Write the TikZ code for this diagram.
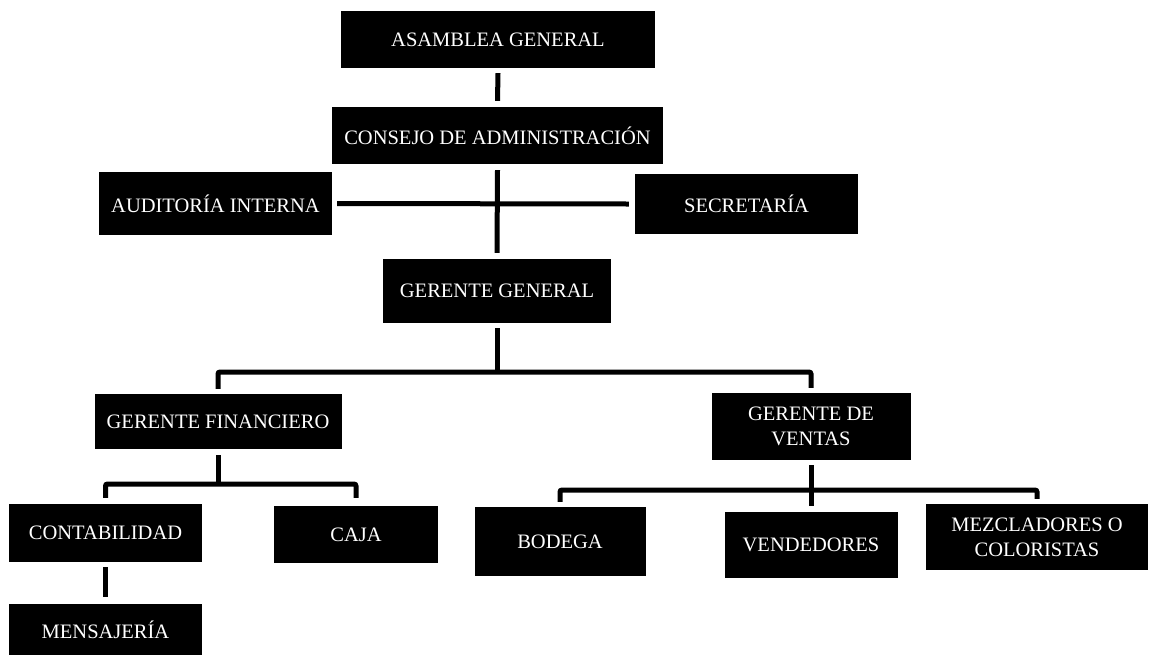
\documentclass[tikz,border=0pt]{standalone}
\usepackage{fontspec}
\setmainfont{Liberation Serif}
\usepackage{tikz}
\usetikzlibrary{calc}

\begin{document}
\begin{tikzpicture}[x=1pt, y=-1pt,
  box/.style={fill=black, text=white, inner sep=0pt, align=center, font=\fontsize{20.5}{25}\selectfont},
  link/.style={line width=5pt, rounded corners=2pt}]
\useasboundingbox (0,0) rectangle (1152,654);
% top of the chart
\node[box, minimum width=314pt, minimum height=57pt] (asamblea) at (498,39.5) {ASAMBLEA GENERAL};
\node[box, minimum width=331pt, minimum height=57pt] (consejo) at (497.5,135.5) {CONSEJO DE ADMINISTRACIÓN};
\node[box, minimum width=233pt, minimum height=63pt] (auditoria) at (215.5,203.5) {AUDITORÍA INTERNA};
\node[box, minimum width=223pt, minimum height=60pt] (secretaria) at (746.5,204) {SECRETARÍA};
\node[box, minimum width=228pt, minimum height=64pt] (gerente) at (497,291) {GERENTE GENERAL};
% managers
\node[box, minimum width=247pt, minimum height=55pt] (financiero) at (218,421.5) {GERENTE FINANCIERO};
\node[box, minimum width=199pt, minimum height=67pt] (ventas) at (811,426.5) {GERENTE DE\\VENTAS};
% departments
\node[box, minimum width=193pt, minimum height=58pt] (contab) at (105.5,533) {CONTABILIDAD};
\node[box, minimum width=164pt, minimum height=57pt] (caja) at (356,534.5) {CAJA};
\node[box, minimum width=193pt, minimum height=52pt] (mensaj) at (105.5,630) {MENSAJERÍA};
\node[box, minimum width=171pt, minimum height=69pt] (bodega) at (560,541.5) {BODEGA};
\node[box, minimum width=173pt, minimum height=66pt] (vended) at (811,545) {VENDEDORES};
\node[box, minimum width=222pt, minimum height=66pt] (mezcl) at (1037,537) {MEZCLADORES O\\COLORISTAS};
% connectors
\coordinate (busA) at (497,372);
\coordinate (busB) at (218,484);
\coordinate (busC) at (811,490);
\draw[link] ([yshift=-5pt]asamblea.south) -- ([yshift=6pt]consejo.north);
\draw[link] ([yshift=-6pt]consejo.south) -- ([yshift=6pt]gerente.north);
\draw[link] ([xshift=5pt]auditoria.east) -- ([xshift=-6pt]secretaria.west);
\draw[link] ([yshift=-5pt]gerente.south) -- (busA);
\draw[link] ([yshift=5pt]financiero.north) |- (busA) -| ([yshift=5pt]ventas.north);
\draw[link] ([yshift=-6pt]financiero.south) -- (busB);
\draw[link] ([yshift=6pt]contab.north) |- (busB) -| ([yshift=8pt]caja.north);
\draw[link] ([yshift=-5pt]contab.south) -- ([yshift=7pt]mensaj.north);
\draw[link] ([yshift=-5pt]ventas.south) -- ([yshift=6pt]vended.north);
\draw[link] ([yshift=5pt]bodega.north) |- (busC) -| ([yshift=5pt]mezcl.north);
\end{tikzpicture}
\end{document}
